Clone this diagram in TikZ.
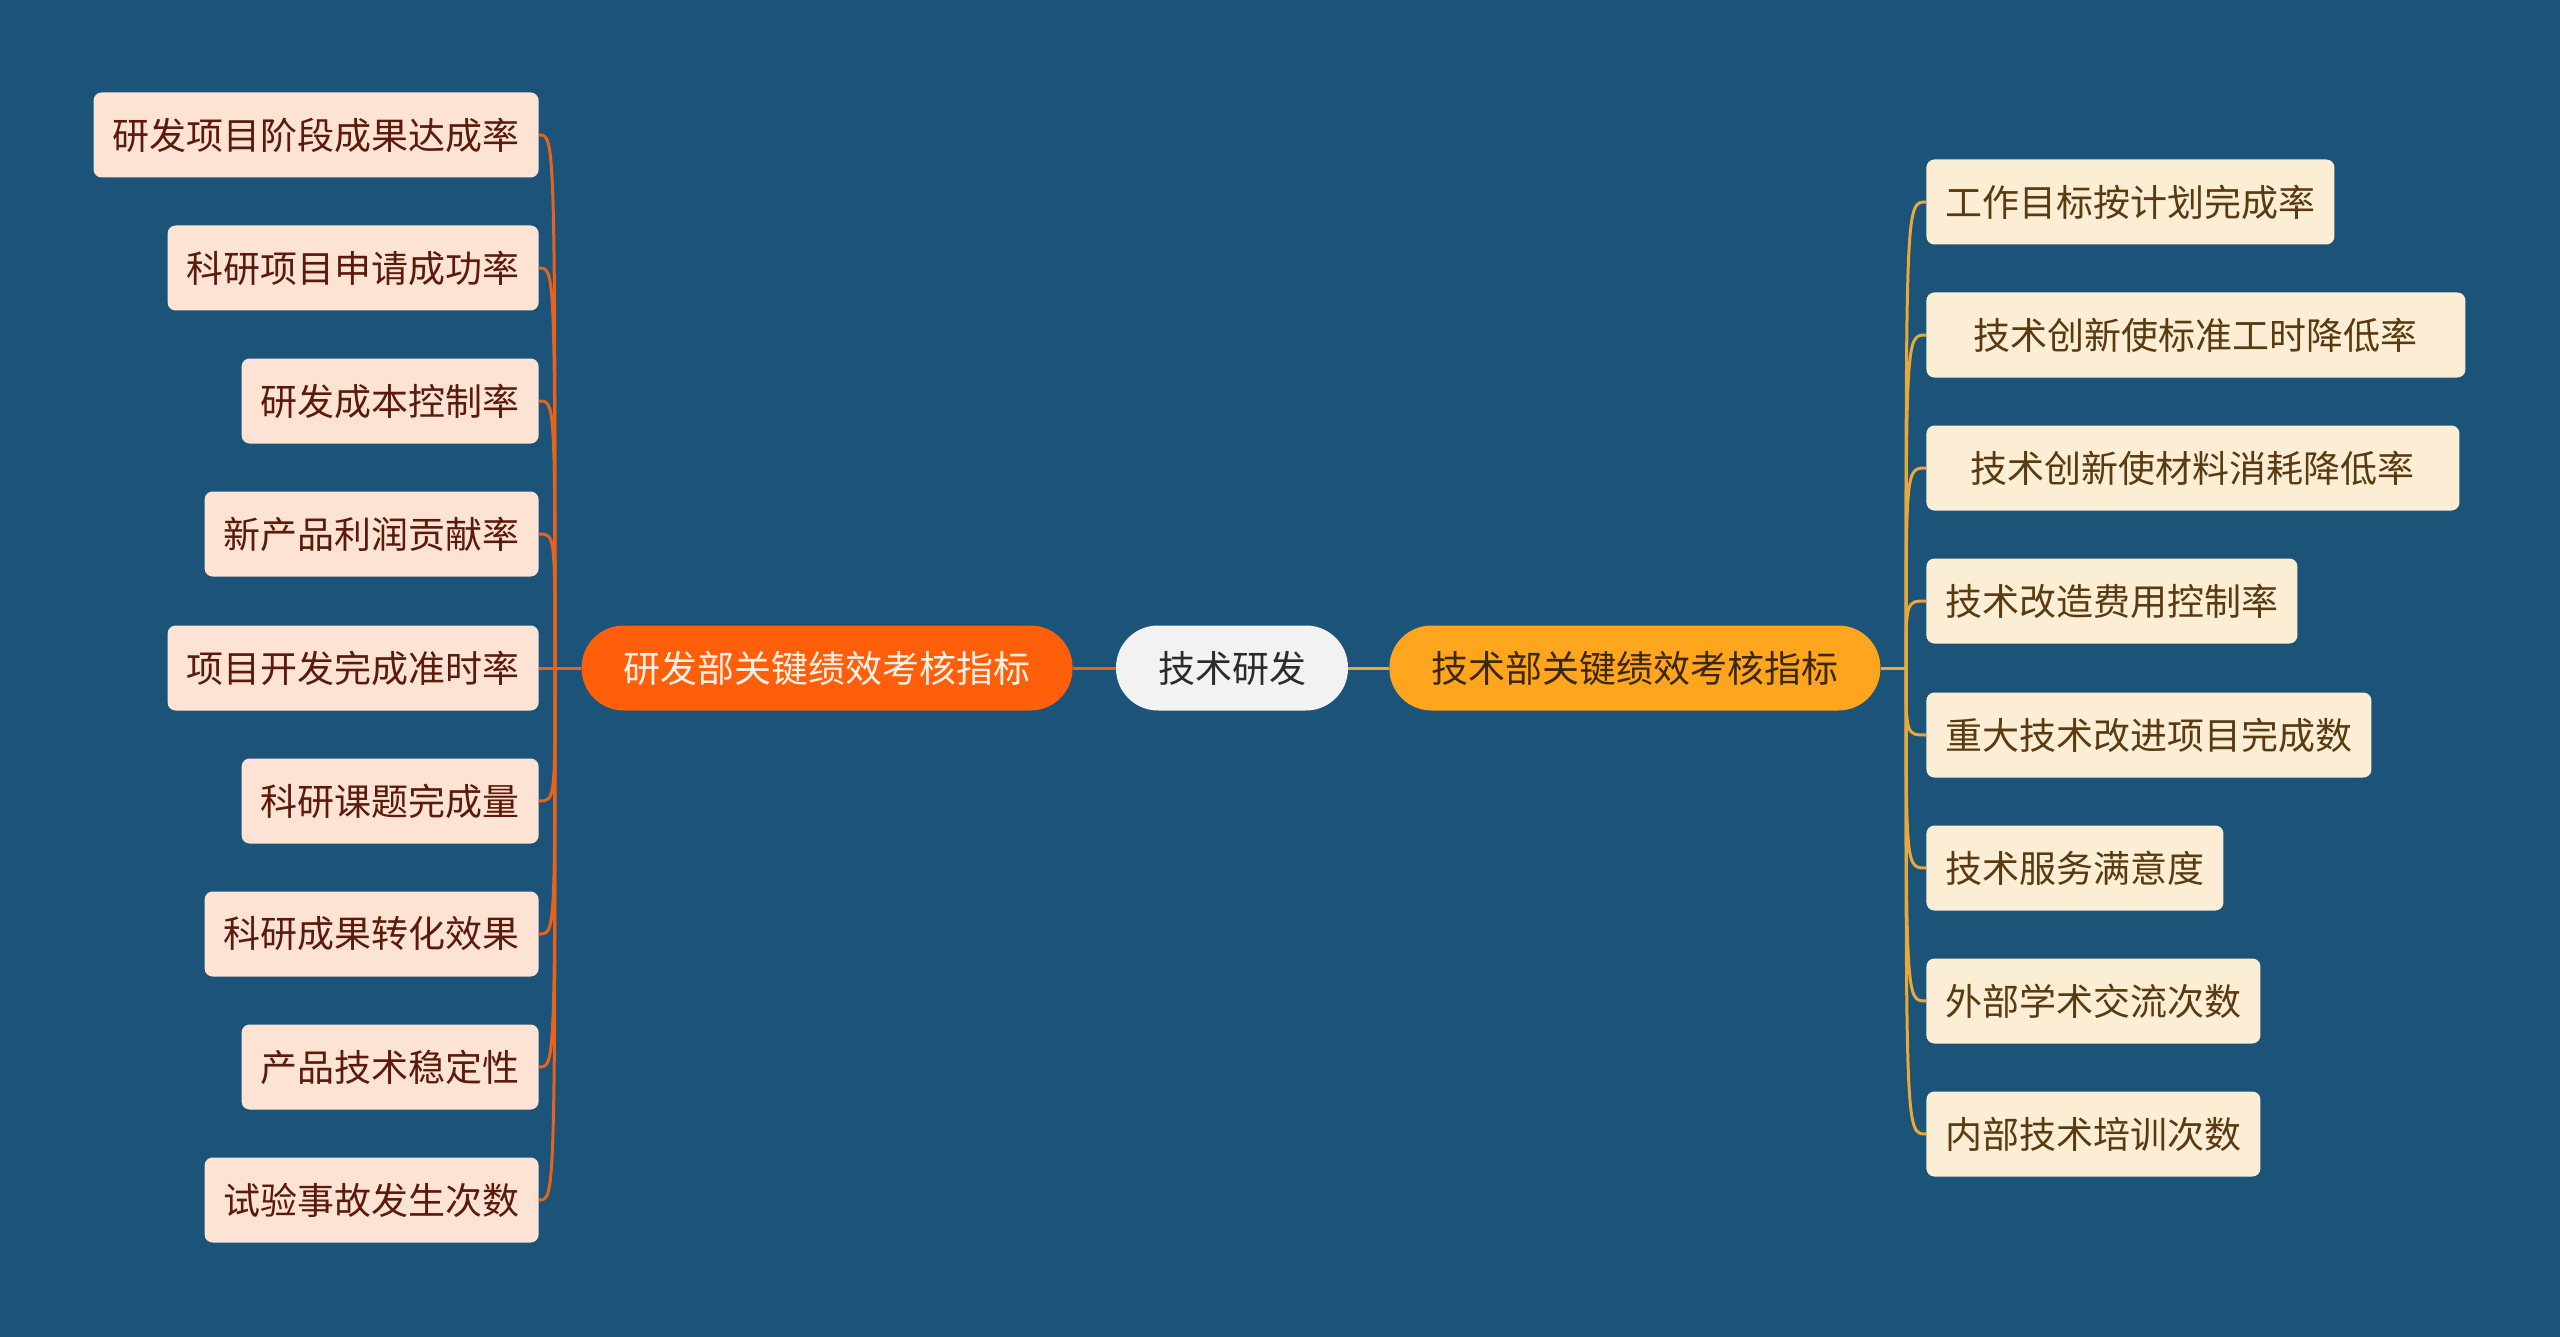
\documentclass[tikz,border=0pt]{standalone}
\usepackage{fontspec}
\setmainfont{Noto Sans CJK SC}
\definecolor{bgblue}{HTML}{1B5478}
\definecolor{rootfill}{HTML}{F2F2F2}
\definecolor{rootink}{HTML}{2B2B2B}
\definecolor{redfill}{HTML}{FF5E0B}
\definecolor{redink}{HTML}{FFF2E4}
\definecolor{redline}{HTML}{E8621C}
\definecolor{redleaf}{HTML}{FCE3D4}
\definecolor{redleafink}{HTML}{5B1A0C}
\definecolor{goldfill}{HTML}{FFA51E}
\definecolor{goldink}{HTML}{3C2808}
\definecolor{goldline}{HTML}{E9A83A}
\definecolor{goldleaf}{HTML}{FCEDD5}
\definecolor{goldleafink}{HTML}{5A3A10}

\begin{document}
\begin{tikzpicture}[x=0.5pt, y=-0.5pt,
  every node/.style={font=\fontsize{18.5}{22}\selectfont},
  mainnode/.style={rounded corners=21pt, minimum height=42.5pt, inner xsep=21pt, inner ysep=0pt},
  leafnode/.style={rounded corners=4pt, minimum height=42.5pt, inner xsep=9.5pt, inner ysep=0pt},
  redleafnode/.style={leafnode, fill=redleaf, text=redleafink, anchor=east},
  goldleafnode/.style={leafnode, fill=goldleaf, text=goldleafink, anchor=west},
  rededge/.style={draw=redline, line width=1.5pt},
  goldedge/.style={draw=goldline, line width=1.5pt}]

\fill[bgblue] (0,0) rectangle (2560,1337);
\useasboundingbox (0,0) rectangle (2560,1337);

% centre and the two branches
\node[mainnode, fill=rootfill, text=rootink] (root) at (1232,668) {技术研发};
\node[mainnode, fill=redfill, text=redink, anchor=east] (yanfa) at (1073,668) {研发部关键绩效考核指标};
\node[mainnode, fill=goldfill, text=goldink, anchor=west] (jishu) at (1389,668) {技术部关键绩效考核指标};

\draw[rededge] (root) -- (yanfa);
\draw[goldedge] (root) -- (jishu);

% left leaves
\node[redleafnode] (l1) at (539,135) {研发项目阶段成果达成率};
\node[redleafnode] (l2) at (539,268) {科研项目申请成功率};
\node[redleafnode] (l3) at (539,401) {研发成本控制率};
\node[redleafnode] (l4) at (539,534) {新产品利润贡献率};
\node[redleafnode] (l5) at (539,668) {项目开发完成准时率};
\node[redleafnode] (l6) at (539,801) {科研课题完成量};
\node[redleafnode] (l7) at (539,934) {科研成果转化效果};
\node[redleafnode] (l8) at (539,1067) {产品技术稳定性};
\node[redleafnode] (l9) at (539,1200) {试验事故发生次数};

% right leaves
\node[goldleafnode] (r1) at (1926,202) {工作目标按计划完成率};
\node[goldleafnode, minimum width=269.5pt] (r2) at (1926,335) {技术创新使标准工时降低率};
\node[goldleafnode, minimum width=266.5pt] (r3) at (1926,468) {技术创新使材料消耗降低率};
\node[goldleafnode] (r4) at (1926,601) {技术改造费用控制率};
\node[goldleafnode] (r5) at (1926,735) {重大技术改进项目完成数};
\node[goldleafnode] (r6) at (1926,868) {技术服务满意度};
\node[goldleafnode] (r7) at (1926,1001) {外部学术交流次数};
\node[goldleafnode] (r8) at (1926,1134) {内部技术培训次数};

% branch buses
\coordinate (lbus) at (555,668);
\coordinate (rbus) at (1906,668);
\draw[rededge] (yanfa.west) -- (lbus);
\draw[goldedge] (jishu.east) -- (rbus);

\foreach \n in {l1,l2,l3,l4,l5,l6,l7,l8,l9}
  \draw[rededge] (lbus) .. controls (lbus |- \n.east) .. (\n.east);
\foreach \n in {r1,r2,r3,r4,r5,r6,r7,r8}
  \draw[goldedge] (rbus) .. controls (rbus |- \n.west) .. (\n.west);
\end{tikzpicture}
\end{document}
